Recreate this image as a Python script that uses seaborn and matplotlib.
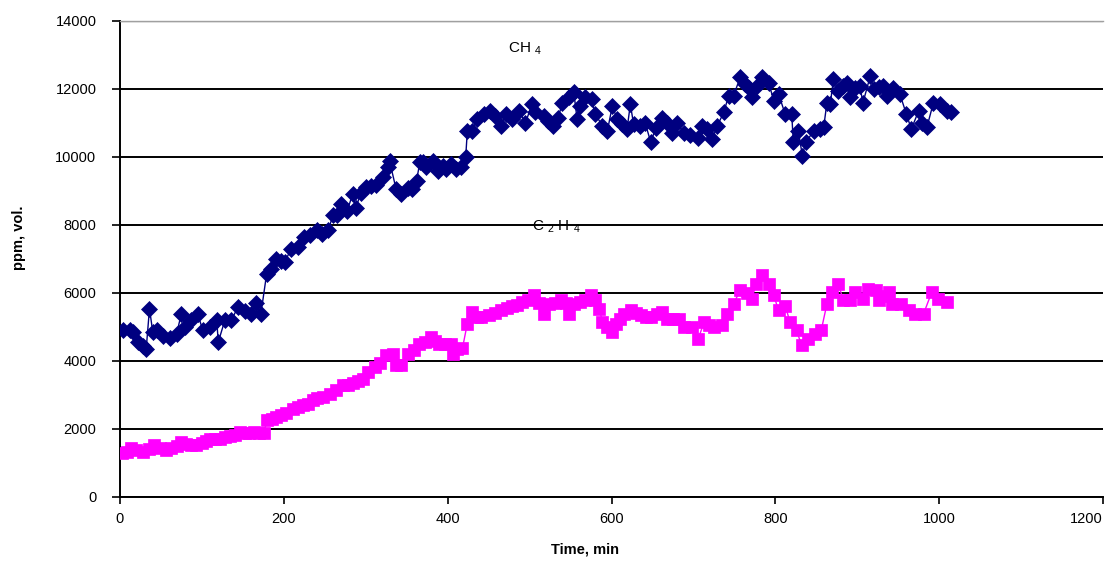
import matplotlib
matplotlib.use("Agg")
import matplotlib.pyplot as plt
import seaborn as sns
import pandas as pd

# ---------------- data ----------------
ch4_time = [4, 12, 16, 22, 28, 32, 36, 40, 45, 53, 61, 69, 75, 79, 87, 95, 101, 110, 118, 120,
            128, 136, 144, 152, 160, 166, 172, 179, 184, 190, 196, 201, 209, 217, 225, 232, 240,
            247, 254, 260, 265, 270, 277, 284, 288, 294, 300, 307, 313, 321, 327, 329, 337, 343,
            351, 357, 362, 366, 370, 374, 382, 388, 394, 398, 404, 410, 416, 422, 424, 430, 436,
            444, 452, 458, 465, 471, 479, 487, 495, 503, 507, 517, 523, 529, 535, 540, 548, 554,
            558, 562, 568, 576, 580, 589, 595, 601, 607, 613, 619, 623, 627, 635, 641, 648, 654,
            662, 668, 674, 680, 688, 696, 705, 711, 717, 723, 729, 737, 743, 749, 757, 763, 768,
            771, 778, 784, 792, 798, 804, 812, 820, 822, 828, 833, 837, 847, 855, 859, 863, 867,
            871, 877, 883, 887, 891, 897, 903, 907, 916, 920, 926, 932, 936, 944, 952, 960, 966,
            975, 979, 985, 993, 1001, 1009, 1015]
ch4_ppm = [4920, 4900, 4850, 4560, 4450, 4360, 5540, 4850, 4900, 4750, 4670, 4800, 5390, 5000,
           5200, 5390, 4900, 5000, 5200, 4560, 5200, 5200, 5590, 5470, 5390, 5700, 5390, 6560,
           6700, 7000, 6950, 6906, 7300, 7350, 7640, 7700, 7840, 7750, 7840, 8280, 8300, 8620,
           8400, 8900, 8500, 8950, 9110, 9150, 9170, 9400, 9700, 9890, 9060, 8910, 9100, 9060,
           9300, 9840, 9850, 9700, 9890, 9600, 9750, 9650, 9800, 9650, 9700, 9990, 10770, 10770,
           11110, 11260, 11360, 11210, 10920, 11260, 11110, 11360, 11010, 11550, 11310, 11210,
           11050, 10920, 11160, 11600, 11750, 11900, 11110, 11500, 11750, 11700, 11260, 10920,
           10770, 11500, 11110, 10960, 10820, 11550, 10960, 10920, 11010, 10430, 10860, 11160,
           11000, 10720, 11010, 10720, 10660, 10570, 10910, 10820, 10520, 10910, 11310, 11800,
           11800, 12340, 12140, 12040, 11750, 12100, 12340, 12190, 11650, 11850, 11260, 11260,
           10430, 10770, 10040, 10430, 10770, 10820, 10870, 11600, 11550, 12290, 11950, 12100,
           12190, 11750, 12040, 12090, 11600, 12390, 11990, 12050, 12090, 11800, 12040, 11850,
           11260, 10820, 11360, 11010, 10870, 11600, 11550, 11360, 11310]

c2h4_time = [2, 8, 14, 20, 28, 35, 42, 49, 56, 62, 69, 75, 81, 87, 93, 100, 105, 110, 116, 122,
             128, 134, 140, 146, 152, 158, 164, 170, 176, 179, 185, 191, 197, 203, 211, 217, 223,
             230, 235, 240, 248, 256, 264, 272, 278, 284, 290, 297, 303, 311, 318, 325, 333, 337,
             343, 351, 359, 365, 372, 380, 385, 390, 397, 404, 406, 412, 418, 424, 430, 436, 441,
             451, 458, 465, 472, 479, 485, 491, 498, 505, 512, 518, 524, 531, 538, 544, 548, 554,
             562, 568, 575, 580, 585, 589, 595, 601, 605, 610, 615, 624, 630, 636, 642, 648, 656,
             662, 668, 675, 682, 688, 698, 706, 713, 719, 725, 735, 741, 749, 757, 765, 771, 777,
             784, 792, 798, 804, 812, 818, 826, 832, 840, 848, 856, 863, 869, 877, 883, 891, 897,
             907, 913, 923, 927, 933, 939, 943, 953, 963, 971, 981, 991, 999, 1009]
c2h4_ppm = [1283, 1330, 1430, 1380, 1330, 1420, 1526, 1450, 1380, 1450, 1500, 1620, 1560, 1540,
            1526, 1600, 1650, 1720, 1700, 1700, 1770, 1800, 1830, 1917, 1880, 1870, 1900, 1870,
            1870, 2260, 2300, 2360, 2400, 2460, 2600, 2650, 2700, 2750, 2850, 2900, 2950, 3040,
            3150, 3290, 3300, 3340, 3400, 3480, 3680, 3820, 3950, 4170, 4220, 3870, 3870, 4220,
            4320, 4510, 4550, 4700, 4600, 4510, 4500, 4510, 4220, 4350, 4370, 5100, 5440, 5300,
            5300, 5340, 5400, 5490, 5550, 5630, 5650, 5740, 5800, 5930, 5700, 5390, 5680, 5700,
            5780, 5700, 5390, 5680, 5740, 5800, 5930, 5800, 5540, 5150, 5000, 4850, 5100, 5250,
            5390, 5490, 5400, 5340, 5300, 5300, 5390, 5440, 5240, 5250, 5240, 5000, 5000, 4660,
            5140, 5050, 5000, 5050, 5390, 5680, 6080, 6000, 5830, 6270, 6520, 6270, 5930, 5490,
            5630, 5140, 4900, 4460, 4660, 4800, 4900, 5680, 6030, 6270, 5780, 5780, 6030, 5830,
            6120, 6080, 5780, 5900, 6030, 5680, 5680, 5490, 5390, 5390, 6030, 5830, 5730]

x_ticks = [0, 200, 400, 600, 800, 1000, 1200]
y_ticks = [0, 2000, 4000, 6000, 8000, 10000, 12000, 14000]
x_label = "Time, min"
y_label = "ppm, vol."
ch4_label = "CH $_4$"
c2h4_label = "C $_2$ H $_4$"

# ---------------- style ----------------
sns.set_theme(style="white")
plt.rcParams["font.family"] = ["Liberation Sans", "DejaVu Sans"]
plt.rcParams["mathtext.fontset"] = "custom"
plt.rcParams["mathtext.rm"] = "Liberation Sans"
plt.rcParams["mathtext.default"] = "regular"

NAVY = "#000080"
MAGENTA = "#FF00FF"

fig = plt.figure(figsize=(11.1, 5.62), dpi=100)
ax = fig.add_axes([120 / 1110, 1 - 497 / 562, 983 / 1110, 476 / 562])

ch4_df = pd.DataFrame({"t": ch4_time, "v": ch4_ppm})
c2h4_df = pd.DataFrame({"t": c2h4_time, "v": c2h4_ppm})

sns.lineplot(data=ch4_df, x="t", y="v", ax=ax, sort=False, color=NAVY, linewidth=1.0,
             marker="D", markersize=8, markeredgecolor=NAVY, markerfacecolor=NAVY,
             markeredgewidth=0.5, zorder=4)
sns.lineplot(data=c2h4_df, x="t", y="v", ax=ax, sort=False, color=MAGENTA, linewidth=1.0,
             marker="s", markersize=8.5, markeredgecolor=MAGENTA, markerfacecolor=MAGENTA,
             markeredgewidth=0.5, zorder=4)

ax.set_xlim(x_ticks[0], x_ticks[-1])
ax.set_ylim(y_ticks[0], y_ticks[-1])
ax.set_xticks(x_ticks)
ax.set_yticks(y_ticks)
ax.set_xticklabels([str(v) for v in x_ticks], fontsize=10.5)
ax.set_yticklabels([str(v) for v in y_ticks], fontsize=10.5)
ax.get_xticklabels()[-1].set_horizontalalignment("right")

ax.yaxis.grid(True, color="black", linewidth=1.4, zorder=1)
ax.set_axisbelow(True)
gl = ax.get_ygridlines()
gl[-1].set_color("#A0A0A0")
gl[-1].set_linewidth(1.0)

for s in ["left", "bottom"]:
    ax.spines[s].set_color("black")
    ax.spines[s].set_linewidth(1.4)
ax.spines["right"].set_visible(False)
ax.spines["top"].set_color("#A0A0A0")
ax.spines["top"].set_linewidth(1.0)

ax.tick_params(axis="y", direction="out", length=6, width=1.2, color="black", pad=11,
               left=True, labelcolor="black")
ax.tick_params(axis="x", direction="out", length=5, width=1.2, color="black", pad=6,
               bottom=True, labelcolor="black")

ax.set_xlabel(x_label, fontsize=10.5, fontweight="bold", color="black")
ax.set_ylabel(y_label, fontsize=10.5, fontweight="bold", color="black")
ax.xaxis.set_label_coords((585 - 120) / 983, (497 - 542) / 476)
ax.yaxis.set_label_coords((26 - 120) / 983, (497 - 238) / 476)

ax.text(474, 13060, ch4_label, fontsize=11, ha="left", va="baseline", color="black")
ax.text(503, 7836, c2h4_label, fontsize=11, ha="left", va="baseline", color="black")

fig.savefig("out.png", dpi=100, facecolor="white")
